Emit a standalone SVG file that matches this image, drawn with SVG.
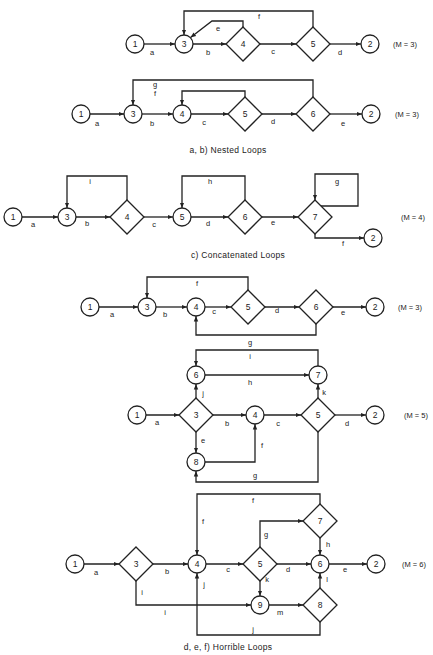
<svg xmlns="http://www.w3.org/2000/svg" width="433" height="655" viewBox="0 0 433 655">
<style>
.nd circle,.nd polygon{fill:#fff;stroke:#222;stroke-width:1.3}
.nd text{font-family:"Liberation Sans",Arial,sans-serif;font-size:8.5px;fill:#222;text-anchor:middle}
#edges path{fill:none;stroke:#222;stroke-width:1.3;marker-end:url(#ah)}
#edges path.na{marker-end:none}
.lb{font-family:"Liberation Sans",Arial,sans-serif;font-size:7.5px;fill:#222;text-anchor:middle}
.m{font-family:"Liberation Sans",Arial,sans-serif;font-size:7.5px;fill:#222}
.cap{font-family:"Liberation Sans",Arial,sans-serif;font-size:8.5px;fill:#222;text-anchor:middle;letter-spacing:0.3px}
</style>
<defs>
<marker id="ah" markerWidth="7" markerHeight="6" refX="5.5" refY="3" orient="auto" markerUnits="userSpaceOnUse"><path d="M0,0.8 L5.5,3 L0,5.2 Z" fill="#222"/></marker>
<g id="c"><circle r="9"/></g>
</defs>
<rect width="433" height="655" fill="#fff"/>
<g id="edges">
<!-- row a -->
<path d="M144,44 L175,44"/><path d="M193,44 L226,44"/><path d="M260,44 L296,44"/><path d="M330,44 L361,44"/>
<path d="M313,27 L313,11 L184,11 L184,35"/>
<path d="M243,27 L243,21 L212,21 L190.5,37.5"/>
<!-- row b -->
<path d="M90,114 L124,114"/><path d="M142,114 L173,114"/><path d="M191,114 L228,114"/><path d="M262,114 L296,114"/><path d="M330,114 L362,114"/>
<path d="M313,97 L313,80 L133,80 L133,105"/>
<path d="M245,97 L245,91 L182,91 L182,105"/>
<!-- row c -->
<path d="M22,217 L58,217"/><path d="M76,217 L110,217"/><path d="M144,217 L173,217"/><path d="M191,217 L228,217"/><path d="M262,217 L298,217"/>
<path d="M315,234 L315,238 L364,238"/>
<path d="M127,200 L127,176 L67,176 L67,208"/>
<path d="M245,200 L245,176 L182,176 L182,208"/>
<path d="M321,206 L358,206 L358,174 L315,174 L315,200"/>
<!-- row d -->
<path d="M99,307 L138,307"/><path d="M156,307 L187,307"/><path d="M205,307 L231,307"/><path d="M265,307 L299,307"/><path d="M333,307 L366,307"/>
<path d="M248,290 L248,277 L147,277 L147,298"/>
<path d="M316,324 L316,335 L196,335 L196,316"/>
<!-- row e -->
<path d="M146,415 L179,415"/><path d="M213,415 L246,415"/><path d="M264,415 L301,415"/><path d="M335,415 L366,415"/>
<path d="M205,375 L309,375"/>
<path d="M318,366 L318,350 L196,350 L196,366"/>
<path d="M196,398 L196,384"/><path d="M318,398 L318,384"/>
<path d="M196,432 L196,453"/>
<path d="M205,462 L255,462 L255,424"/>
<path d="M318,432 L318,482 L196,482 L196,471"/>
<!-- row f -->
<path d="M84,564 L119,564"/><path d="M153,564 L188,564"/><path d="M206,564 L243,564"/><path d="M277,564 L311,564"/><path d="M329,564 L367,564"/>
<path d="M320,504 L320,494 L197,494 L197,555"/>
<path d="M260,547 L260,521 L303,521"/>
<path d="M320,538 L320,555"/>
<path d="M260,581 L260,596"/>
<path d="M320,588 L320,573"/>
<path d="M136,581 L136,605 L251,605"/>
<path d="M269,605 L303,605"/>
<path d="M320,622 L320,635 L197,635 L197,573"/>
</g>
<g id="labels">
<text class="lb" x="152" y="55">a</text><text class="lb" x="208" y="55">b</text><text class="lb" x="273" y="54">c</text><text class="lb" x="340" y="55">d</text>
<text class="lb" x="259" y="19">f</text><text class="lb" x="218" y="31">e</text>
<text class="lb" x="97" y="126">a</text><text class="lb" x="152" y="126">b</text><text class="lb" x="204" y="125">c</text><text class="lb" x="273" y="124">d</text><text class="lb" x="343" y="126">e</text>
<text class="lb" x="155" y="87">g</text><text class="lb" x="155" y="96">f</text>
<text class="lb" x="33" y="227">a</text><text class="lb" x="87" y="226">b</text><text class="lb" x="154" y="227">c</text><text class="lb" x="208" y="226">d</text><text class="lb" x="273" y="225">e</text><text class="lb" x="343" y="246">f</text>
<text class="lb" x="90" y="184">i</text><text class="lb" x="210" y="184">h</text><text class="lb" x="337" y="184">g</text>
<text class="lb" x="112" y="317">a</text><text class="lb" x="165" y="317">b</text><text class="lb" x="214" y="314">c</text><text class="lb" x="277" y="313">d</text><text class="lb" x="343" y="315">e</text>
<text class="lb" x="197" y="286">f</text><text class="lb" x="250" y="345">g</text>
<text class="lb" x="157" y="425">a</text><text class="lb" x="227" y="426">b</text><text class="lb" x="278" y="426">c</text><text class="lb" x="347" y="426">d</text>
<text class="lb" x="250" y="385">h</text><text class="lb" x="250" y="359">i</text><text class="lb" x="203" y="396">j</text><text class="lb" x="324" y="395">k</text>
<text class="lb" x="203" y="443">e</text><text class="lb" x="262" y="448">f</text><text class="lb" x="255" y="478">g</text>
<text class="lb" x="96" y="575">a</text><text class="lb" x="167" y="574">b</text><text class="lb" x="228" y="572">c</text><text class="lb" x="288" y="572">d</text><text class="lb" x="345" y="572">e</text>
<text class="lb" x="253" y="503">f</text><text class="lb" x="203" y="524">f</text><text class="lb" x="266" y="537">g</text><text class="lb" x="328" y="547">h</text>
<text class="lb" x="267" y="582">k</text><text class="lb" x="327" y="582">l</text>
<text class="lb" x="142" y="595">i</text><text class="lb" x="165" y="615">i</text><text class="lb" x="280" y="615">m</text>
<text class="lb" x="204" y="587">j</text><text class="lb" x="253" y="632">j</text>
<text class="m" x="393" y="47">(M = 3)</text>
<text class="m" x="395" y="117">(M = 3)</text>
<text class="m" x="401" y="220">(M = 4)</text>
<text class="m" x="398" y="310">(M = 3)</text>
<text class="m" x="404" y="418">(M = 5)</text>
<text class="m" x="402" y="567">(M = 6)</text>
<text class="cap" x="228" y="153">a, b) Nested Loops</text>
<text class="cap" x="238" y="258">c)  Concatenated Loops</text>
<text class="cap" x="228" y="650">d, e, f)  Horrible Loops</text>
</g>
<!-- row a nodes -->
<g id="a1" class="nd"><circle cx="135" cy="44" r="9"/><text x="135" y="47">1</text></g>
<g id="a3" class="nd"><circle cx="184" cy="44" r="9"/><text x="184" y="47">3</text></g>
<g id="a4" class="nd"><polygon points="243,27 260,44 243,61 226,44"/><text x="243" y="47">4</text></g>
<g id="a5" class="nd"><polygon points="313,27 330,44 313,61 296,44"/><text x="313" y="47">5</text></g>
<g id="a2" class="nd"><circle cx="370" cy="44" r="9"/><text x="370" y="47">2</text></g>
<!-- row b nodes -->
<g id="b1" class="nd"><circle cx="81" cy="114" r="9"/><text x="81" y="117">1</text></g>
<g id="b3" class="nd"><circle cx="133" cy="114" r="9"/><text x="133" y="117">3</text></g>
<g id="b4" class="nd"><circle cx="182" cy="114" r="9"/><text x="182" y="117">4</text></g>
<g id="b5" class="nd"><polygon points="245,97 262,114 245,131 228,114"/><text x="245" y="117">5</text></g>
<g id="b6" class="nd"><polygon points="313,97 330,114 313,131 296,114"/><text x="313" y="117">6</text></g>
<g id="b2" class="nd"><circle cx="371" cy="114" r="9"/><text x="371" y="117">2</text></g>
<!-- row c nodes -->
<g id="c1" class="nd"><circle cx="13" cy="217" r="9"/><text x="13" y="220">1</text></g>
<g id="c3" class="nd"><circle cx="67" cy="217" r="9"/><text x="67" y="220">3</text></g>
<g id="c4" class="nd"><polygon points="127,200 144,217 127,234 110,217"/><text x="127" y="220">4</text></g>
<g id="c5" class="nd"><circle cx="182" cy="217" r="9"/><text x="182" y="220">5</text></g>
<g id="c6" class="nd"><polygon points="245,200 262,217 245,234 228,217"/><text x="245" y="220">6</text></g>
<g id="c7" class="nd"><polygon points="315,200 332,217 315,234 298,217"/><text x="315" y="220">7</text></g>
<g id="c2" class="nd"><circle cx="373" cy="238" r="9"/><text x="373" y="241">2</text></g>
<!-- row d nodes -->
<g id="d1" class="nd"><circle cx="90" cy="307" r="9"/><text x="90" y="310">1</text></g>
<g id="d3" class="nd"><circle cx="147" cy="307" r="9"/><text x="147" y="310">3</text></g>
<g id="d4" class="nd"><circle cx="196" cy="307" r="9"/><text x="196" y="310">4</text></g>
<g id="d5" class="nd"><polygon points="248,290 265,307 248,324 231,307"/><text x="248" y="310">5</text></g>
<g id="d6" class="nd"><polygon points="316,290 333,307 316,324 299,307"/><text x="316" y="310">6</text></g>
<g id="d2" class="nd"><circle cx="375" cy="307" r="9"/><text x="375" y="310">2</text></g>
<!-- row e nodes -->
<g id="e6" class="nd"><circle cx="196" cy="375" r="9"/><text x="196" y="378">6</text></g>
<g id="e7" class="nd"><circle cx="318" cy="375" r="9"/><text x="318" y="378">7</text></g>
<g id="e1" class="nd"><circle cx="137" cy="415" r="9"/><text x="137" y="418">1</text></g>
<g id="e3" class="nd"><polygon points="196,398 213,415 196,432 179,415"/><text x="196" y="418">3</text></g>
<g id="e4" class="nd"><circle cx="255" cy="415" r="9"/><text x="255" y="418">4</text></g>
<g id="e5" class="nd"><polygon points="318,398 335,415 318,432 301,415"/><text x="318" y="418">5</text></g>
<g id="e2" class="nd"><circle cx="375" cy="415" r="9"/><text x="375" y="418">2</text></g>
<g id="e8" class="nd"><circle cx="196" cy="462" r="9"/><text x="196" y="465">8</text></g>
<!-- row f nodes -->
<g id="f1" class="nd"><circle cx="75" cy="564" r="9"/><text x="75" y="567">1</text></g>
<g id="f3" class="nd"><polygon points="136,547 153,564 136,581 119,564"/><text x="136" y="567">3</text></g>
<g id="f4" class="nd"><circle cx="197" cy="564" r="9"/><text x="197" y="567">4</text></g>
<g id="f5" class="nd"><polygon points="260,547 277,564 260,581 243,564"/><text x="260" y="567">5</text></g>
<g id="f6" class="nd"><circle cx="320" cy="564" r="9"/><text x="320" y="567">6</text></g>
<g id="f2" class="nd"><circle cx="376" cy="564" r="9"/><text x="376" y="567">2</text></g>
<g id="f7" class="nd"><polygon points="320,504 337,521 320,538 303,521"/><text x="320" y="524">7</text></g>
<g id="f9" class="nd"><circle cx="260" cy="605" r="9"/><text x="260" y="608">9</text></g>
<g id="f8" class="nd"><polygon points="320,588 337,605 320,622 303,605"/><text x="320" y="608">8</text></g>
</svg>
